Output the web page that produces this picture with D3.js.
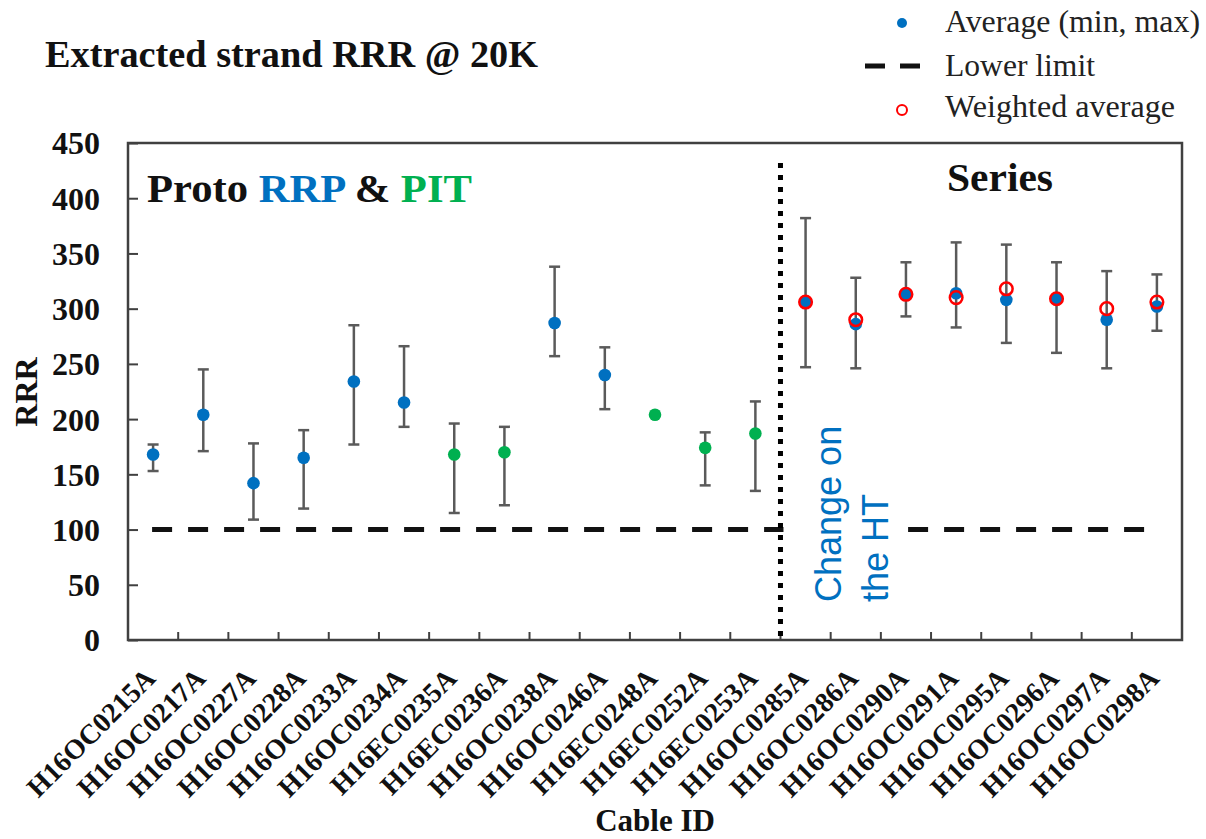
<!DOCTYPE html>
<html>
<head>
<meta charset="utf-8">
<script src="https://cdn.jsdelivr.net/npm/d3@7/dist/d3.min.js"></script>
<style>
  html, body { margin: 0; padding: 0; background: #fff; }
  svg { display: block; }
</style>
</head>
<body>
<svg id="chart" width="1206" height="839"></svg>
<script>
// ---- Data ----
const categories = ["H16OC0215A","H16OC0217A","H16OC0227A","H16OC0228A","H16OC0233A","H16OC0234A",
  "H16EC0235A","H16EC0236A","H16OC0238A","H16OC0246A","H16EC0248A","H16EC0252A","H16EC0253A",
  "H16OC0285A","H16OC0286A","H16OC0290A","H16OC0291A","H16OC0295A","H16OC0296A","H16OC0297A","H16OC0298A"];
const groups = ["RRP","RRP","RRP","RRP","RRP","RRP","PIT","PIT","RRP","RRP","PIT","PIT","PIT",
  "Series","Series","Series","Series","Series","Series","Series","Series"];
const avgValues = [168,204,142,165,234,215,168,170,287,240,204,174,187,306,286,313,314,308,309,290,302];
const minValues = [153,171,109,119,177,193,115,122,257,209,204,140,135,247,246,293,283,269,260,246,280];
const maxValues = [177,245,178,190,285,266,196,193,338,265,204,188,216,382,328,342,360,358,342,334,331];
const weightedValues = [null,null,null,null,null,null,null,null,null,null,null,null,null,
  306,290,313,310,318,309,300,306];
const yTicks = [0,50,100,150,200,250,300,350,400,450];
const lowerLimit = 100;
const changeIndex = 13;      // boundary between proto and series
const changeLineTop = 432;   // top of dotted separator (RRR units)

// ---- Styles ----
const SERIF = "'Liberation Serif', 'Times New Roman', Times, serif";
const SANS = "'Liberation Sans', Arial, Helvetica, sans-serif";
const colorBlue = "#0070C0", colorGreen = "#00B050", colorRed = "#FF0000";
const groupColor = g => g === "PIT" ? colorGreen : colorBlue;

const svg = d3.select("#chart");
const pLeft = 128, pRight = 1182, pTop = 143, pBottom = 640;

const x = d3.scaleBand().domain(categories).range([pLeft, pRight]).padding(0);
const y = d3.scaleLinear().domain([0, 450]).range([pBottom, pTop]);
const cx = c => x(c) + x.bandwidth() / 2;

// Title
svg.append("text").style("font-family", SERIF)
  .attr("x", 45).attr("y", 67)
  .attr("font-size", 38).attr("font-weight", "bold").attr("fill", "#111")
  .attr("textLength", 493).attr("lengthAdjust", "spacingAndGlyphs")
  .text("Extracted strand RRR @ 20K");

// Legend
const lg = svg.append("g");
lg.append("circle").attr("cx", 902).attr("cy", 23).attr("r", 5).attr("fill", colorBlue);
lg.append("text").style("font-family", SERIF).attr("x", 945).attr("y", 32)
  .attr("font-size", 31).attr("fill", "#222").attr("textLength", 255).attr("lengthAdjust", "spacingAndGlyphs")
  .text("Average (min, max)");
lg.append("line").attr("x1", 865).attr("x2", 920).attr("y1", 66).attr("y2", 66)
  .attr("stroke", "#111").attr("stroke-width", 5).attr("stroke-dasharray", "20,15");
lg.append("text").style("font-family", SERIF).attr("x", 945).attr("y", 76)
  .attr("font-size", 31).attr("fill", "#222").attr("textLength", 150).attr("lengthAdjust", "spacingAndGlyphs")
  .text("Lower limit");
lg.append("circle").attr("cx", 902).attr("cy", 110).attr("r", 5)
  .attr("fill", "none").attr("stroke", colorRed).attr("stroke-width", 2);
lg.append("text").style("font-family", SERIF).attr("x", 945).attr("y", 117)
  .attr("font-size", 31).attr("fill", "#222").attr("textLength", 230).attr("lengthAdjust", "spacingAndGlyphs")
  .text("Weighted average");

// Y axis (ticks inward, labels outside)
const yAxis = d3.axisLeft(y).tickValues(yTicks).tickSize(-10).tickPadding(28).tickFormat(d3.format("d"));
const yg = svg.append("g").attr("transform", `translate(${pLeft},0)`).call(yAxis)
  .attr("font-family", null).attr("font-size", null);
yg.select(".domain").remove();
yg.selectAll(".tick line").attr("stroke", "#404040").attr("stroke-width", 2);
yg.selectAll(".tick text").style("font-family", SERIF).attr("font-size", 32).attr("font-weight", "bold")
  .attr("fill", "#111").attr("dy", "0.34em");

// Y axis title
svg.append("text").style("font-family", SERIF)
  .attr("transform", `translate(37,392) rotate(-90)`)
  .attr("text-anchor", "middle").attr("font-size", 32).attr("font-weight", "bold").attr("fill", "#111")
  .text("RRR");

// X ticks at band boundaries (inward)
svg.append("g").selectAll("line").data(categories.slice(1)).join("line")
  .attr("x1", d => x(d)).attr("x2", d => x(d))
  .attr("y1", pBottom).attr("y2", pBottom - 8)
  .attr("stroke", "#404040").attr("stroke-width", 2);

// X labels
svg.append("g").selectAll("text").data(categories).join("text")
  .style("font-family", SERIF)
  .attr("transform", d => `translate(${cx(d) + 4},${pBottom + 40}) rotate(-45)`)
  .attr("text-anchor", "end").attr("font-size", 28).attr("font-weight", "bold").attr("fill", "#111")
  .text(d => d);

// X axis title
svg.append("text").style("font-family", SERIF)
  .attr("x", (pLeft + pRight) / 2).attr("y", 831).attr("text-anchor", "middle")
  .attr("font-size", 31).attr("font-weight", "bold").attr("fill", "#111")
  .text("Cable ID");

// Lower limit dashed line
svg.append("line")
  .attr("x1", cx(categories[0]) - 1).attr("x2", cx(categories[categories.length - 1]))
  .attr("y1", y(lowerLimit)).attr("y2", y(lowerLimit))
  .attr("stroke", "#111").attr("stroke-width", 5).attr("stroke-dasharray", "20,16");

// "Change on the HT" annotation with white background
const sepX = x(categories[changeIndex]);
svg.append("rect").attr("x", sepX + 3).attr("y", 415).attr("width", 124).attr("height", 195).attr("fill", "#fff");
svg.append("text")
  .attr("transform", `translate(${sepX + 61},602) rotate(-90)`)
  .style("font-family", SANS).attr("font-size", 36).attr("fill", colorBlue)
  .text("Change on");
svg.append("text")
  .attr("transform", `translate(${sepX + 108},602) rotate(-90)`)
  .style("font-family", SANS).attr("font-size", 36).attr("fill", colorBlue)
  .text("the HT");

// Dotted separator
svg.append("line")
  .attr("x1", sepX).attr("x2", sepX)
  .attr("y1", y(changeLineTop)).attr("y2", pBottom)
  .attr("stroke", "#000").attr("stroke-width", 5).attr("stroke-dasharray", "5,7");

// Frame
svg.append("rect").attr("x", pLeft).attr("y", pTop).attr("width", pRight - pLeft).attr("height", pBottom - pTop)
  .attr("fill", "none").attr("stroke", "#404040").attr("stroke-width", 2.5);

// Section labels
const proto = svg.append("text").style("font-family", SERIF).attr("x", 147).attr("y", 202)
  .attr("font-size", 41).attr("font-weight", "bold")
  .attr("textLength", 325).attr("lengthAdjust", "spacingAndGlyphs");
proto.append("tspan").attr("fill", "#111").text("Proto ");
proto.append("tspan").attr("fill", colorBlue).text("RRP");
proto.append("tspan").attr("fill", "#111").text(" & ");
proto.append("tspan").attr("fill", colorGreen).text("PIT");

svg.append("text").style("font-family", SERIF).attr("x", 947).attr("y", 191)
  .attr("font-size", 41).attr("font-weight", "bold").attr("fill", "#111")
  .attr("textLength", 106).attr("lengthAdjust", "spacingAndGlyphs")
  .text("Series");

// Error bars
const idx = d3.range(categories.length);
const eb = svg.append("g").attr("stroke", "#5a5a5a").attr("stroke-width", 2.5);
eb.selectAll("line.v").data(idx).join("line").attr("class", "v")
  .attr("x1", i => cx(categories[i])).attr("x2", i => cx(categories[i]))
  .attr("y1", i => y(minValues[i])).attr("y2", i => y(maxValues[i]));
eb.selectAll("line.t").data(idx).join("line").attr("class", "t")
  .attr("x1", i => cx(categories[i]) - 5.5).attr("x2", i => cx(categories[i]) + 5.5)
  .attr("y1", i => y(maxValues[i])).attr("y2", i => y(maxValues[i]));
eb.selectAll("line.b").data(idx).join("line").attr("class", "b")
  .attr("x1", i => cx(categories[i]) - 5.5).attr("x2", i => cx(categories[i]) + 5.5)
  .attr("y1", i => y(minValues[i])).attr("y2", i => y(minValues[i]));

// Average dots
svg.append("g").selectAll("circle").data(idx).join("circle")
  .attr("cx", i => cx(categories[i])).attr("cy", i => y(avgValues[i])).attr("r", 6.3)
  .attr("fill", i => groupColor(groups[i]));

// Weighted average circles
svg.append("g").selectAll("circle").data(idx.filter(i => weightedValues[i] != null)).join("circle")
  .attr("cx", i => cx(categories[i])).attr("cy", i => y(weightedValues[i])).attr("r", 6.3)
  .attr("fill", "none").attr("stroke", colorRed).attr("stroke-width", 2.5);
</script>
</body>
</html>
